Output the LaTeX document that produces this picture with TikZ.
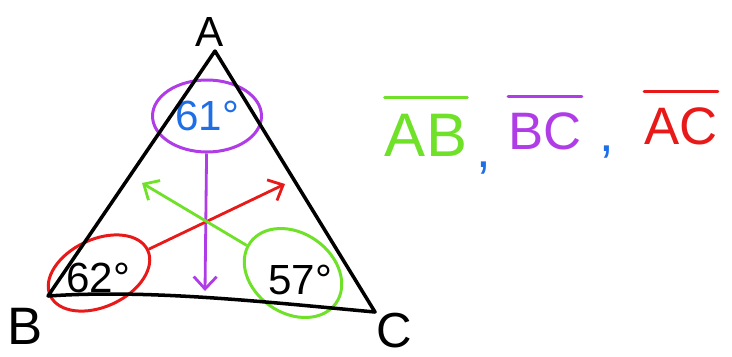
\documentclass[tikz,border=0pt]{standalone}
\usepackage{xcolor}
\usepackage{fontspec}
\setmainfont{Liberation Sans}
\usepackage{tikz}
\usetikzlibrary{shapes.geometric, arrows.meta, calc}
\definecolor{pengreen}{RGB}{110,225,40}
\definecolor{penpurple}{RGB}{175,60,230}
\definecolor{penred}{RGB}{232,25,25}
\definecolor{penblue}{RGB}{30,110,230}
\tikzset{
    ring/.style={ellipse, draw, line width=1.7pt, inner sep=0pt},
    angle/.style={font=\fontsize{24}{24}\selectfont},
    vertex/.style={font=\fontsize{24}{24}\selectfont},
    segment/.style={font=\fontsize{30}{30}\selectfont, inner sep=0pt},
    bar/.style={line width=1.7pt, line cap=round},
    side/.style={line width=2pt, line cap=round, line join=round},
    flow/.style={line width=1.6pt, -{Straight Barb[length=7pt,width=13pt,line width=1.6pt]}}
}
\begin{document}
\begin{tikzpicture}[x=0.02cm, y=-0.02cm]
        \useasboundingbox (0,0) rectangle (732,356);
        % Layout
        \coordinate (a) at (215,51);
        \coordinate (b) at (48,296);
        \coordinate (c) at (375,312);
        \node [vertex] (la) at (210,32) {A};
        \node [vertex, font=\fontsize{30}{30}\selectfont] (lb) at (25,326) {B};
        \node [vertex, font=\fontsize{28}{28}\selectfont] (lc) at (394,331) {C};
        \node [ring, draw=penpurple, text=penblue, minimum width=2.18cm, minimum height=1.44cm, angle] (p61) at (207,116) {61°};
        \node [ring, draw=penred, minimum width=2.15cm, minimum height=1.35cm, rotate=25] (r62) at (99,273) {};
        \node [angle] (t62) at (98,278) {62°};
        \node [ring, draw=pengreen, minimum width=2.1cm, minimum height=1.6cm, rotate=-35] (g57) at (293,273) {};
        \node [angle] (t57) at (300,280) {57°};
        \coordinate (pend) at (205,291);
        \coordinate (rend) at (285,184);
        \coordinate (gend) at (142,183);

        \node [segment, text=pengreen, font=\fontsize{35}{35}\selectfont] (ab) at (426,135) {AB};
        \node [segment, text=penblue] (k1) at (484,168) {,};
        \node [segment, text=penpurple] (bc) at (545,131) {BC};
        \node [segment, text=penblue] (k2) at (607,152) {,};
        \node [segment, text=penred] (ac) at (681,126) {AC};

        % Triangle
        \draw [side] (b) -- (a) -- (c) .. controls (265,302) and (150,289) .. (b);

        % Flows
        \draw [flow, penpurple] (p61) -- (pend);
        \draw [flow, penred] (r62) -- (rend);
        \draw [flow, pengreen] (g57) -- (gend);

        % Bars
        \draw [bar, pengreen] ([yshift=9pt]ab.north west) -- ([yshift=9pt]ab.north east);
        \draw [bar, penpurple] ([yshift=9pt]bc.north west) -- ([yshift=9pt]bc.north east);
        \draw [bar, penred] ([yshift=9pt]ac.north west) -- ([yshift=9pt]ac.north east);
    \end{tikzpicture}
\end{document}
